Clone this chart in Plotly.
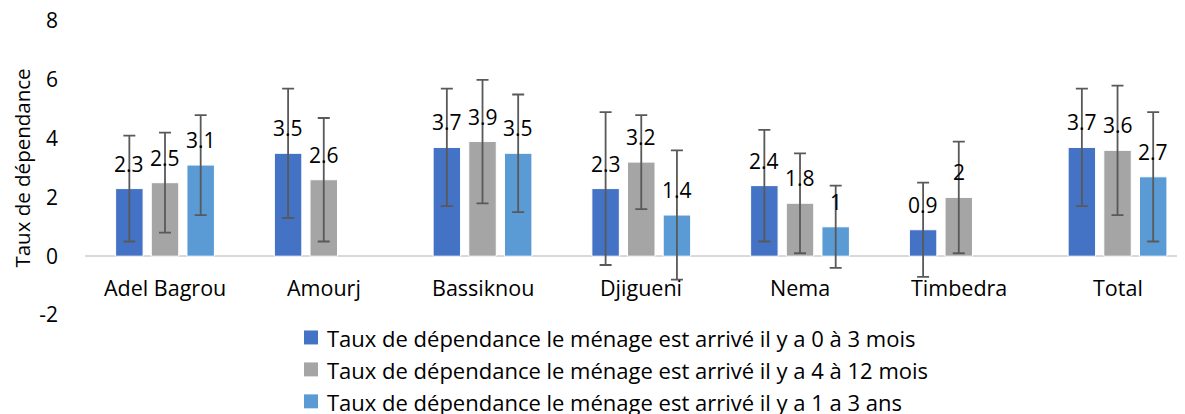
import plotly.graph_objects as go

categories = ["Adel Bagrou", "Amourj", "Bassiknou", "Djigueni", "Nema", "Timbedra", "Total"]

series_names = [
    "Taux de dépendance le ménage est arrivé il y a 0 à 3 mois",
    "Taux de dépendance le ménage est arrivé il y a 4 à 12 mois",
    "Taux de dépendance le ménage est arrivé il y a 1 a 3 ans",
]
vals_0_3m = [2.3, 3.5, 3.7, 2.3, 2.4, 0.9, 3.7]
vals_4_12m = [2.5, 2.6, 3.9, 3.2, 1.8, 2.0, 3.6]
vals_1_3a = [3.1, None, 3.5, 1.4, 1.0, None, 2.7]

err_0_3m = [1.8, 2.2, 2.0, 2.6, 1.9, 1.6, 2.0]
err_4_12m = [1.7, 2.1, 2.1, 1.6, 1.7, 1.9, 2.2]
err_1_3a = [1.7, 0, 2.0, 2.2, 1.4, 0, 2.2]

y_ticks = [-2, 0, 2, 4, 6, 8]
y_ticktext = ["-2", "0", "2", "4", "6", "8"]

colors = ["#4472C4", "#A5A5A5", "#5B9BD5"]
FONT = "Open Sans"
BARGAP = 0.326
BARGROUPGAP = 0.23

# layout geometry (pixels)
W, H = 1177, 406
ML, MR, MT, MB = 77, 0, 12.5, 99
PW, PH = W - ML - MR, H - MT - MB
LEG_X0 = 296          # square left edge (px)
LEG_SQ = 14           # square size (px)
LEG_TX = 317          # text left edge (px)
LEG_ROW0 = 329.5      # first row center (px from top)
LEG_STEP = 32         # row spacing (px)


def px_to_paper_x(px):
    return (px - ML) / PW


def px_to_paper_y(py):
    return (H - MB - py) / PH


def fmt(v):
    return str(int(v)) if float(v).is_integer() else f"{v:g}"


xs = list(range(len(categories)))
all_vals = [vals_0_3m, vals_4_12m, vals_1_3a]
all_errs = [err_0_3m, err_4_12m, err_1_3a]
n = len(all_vals)

fig = go.Figure()
for k, (name, vals, errs, col) in enumerate(zip(series_names, all_vals, all_errs, colors)):
    fig.add_trace(go.Bar(
        x=xs, y=vals, name=name,
        marker=dict(color=col, line=dict(color="white", width=1)),
        error_y=dict(type="data", array=[e if v is not None else 0 for v, e in zip(vals, errs)],
                     visible=True, color="#595959", thickness=1.8, width=6),
        cliponaxis=False, showlegend=False,
    ))

# data labels drawn on top of error bars
slot = (1 - BARGAP) / n
for k, vals in enumerate(all_vals):
    off = (k - (n - 1) / 2) * slot
    for i, v in zip(xs, vals):
        if v is None:
            continue
        fig.add_annotation(x=i + off, y=v, xref="x", yref="y", text=fmt(v), showarrow=False,
                           yanchor="bottom", yshift=9,
                           font=dict(family=FONT, size=21, color="black"))

for i, c in zip(xs, categories):
    fig.add_annotation(x=i, y=-1.07, yref="y", xref="x", text=c, showarrow=False,
                       font=dict(family=FONT, size=21.5, color="black"), yanchor="middle")

# legend (square + text per series)
for k, (name, col) in enumerate(zip(series_names, colors)):
    cy = LEG_ROW0 + k * LEG_STEP
    fig.add_shape(type="rect", xref="paper", yref="paper",
                  x0=px_to_paper_x(LEG_X0), x1=px_to_paper_x(LEG_X0 + LEG_SQ),
                  y0=px_to_paper_y(cy + LEG_SQ / 2), y1=px_to_paper_y(cy - LEG_SQ / 2),
                  fillcolor=col, line=dict(width=0))
    fig.add_annotation(xref="paper", yref="paper", x=px_to_paper_x(LEG_TX),
                       y=px_to_paper_y(cy + 0.5), xanchor="left", yanchor="middle",
                       text=name, showarrow=False,
                       font=dict(family=FONT, size=22, color="black"))

fig.update_layout(
    width=W, height=H,
    margin=dict(l=ML, r=MR, t=MT, b=MB, autoexpand=False),
    paper_bgcolor="white", plot_bgcolor="white",
    barmode="group", bargap=BARGAP, bargroupgap=BARGROUPGAP,
    font=dict(family=FONT, size=21, color="black"),
    showlegend=False,
)
fig.update_xaxes(range=[-0.504, 6.425], showticklabels=False, showline=False, showgrid=False,
                 zeroline=False)
fig.update_yaxes(range=[-2, 8], tickvals=y_ticks, ticktext=y_ticktext, showgrid=False,
                 zeroline=True, zerolinecolor="#D9D9D9", ticklabeloverflow="allow",
                 zerolinewidth=1.5, showline=False, ticklabelstandoff=26,
                 tickfont=dict(family=FONT, size=21, color="black"),
                 title=dict(text="Taux de dépendance", font=dict(family=FONT, size=20.5, color="black"),
                            standoff=15))

fig.write_html("out.html")
